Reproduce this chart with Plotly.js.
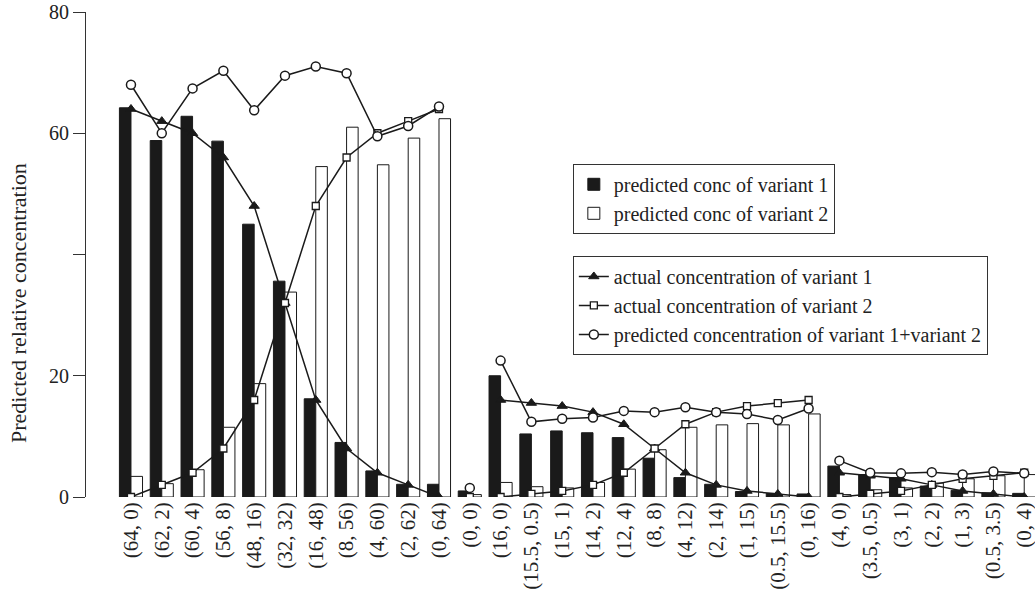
<!DOCTYPE html>
<html>
<head>
<meta charset="utf-8">
<script src="https://cdn.plot.ly/plotly-3.0.1.min.js"></script>
<style>html,body{margin:0;padding:0;background:#fff;}#chart{width:1035px;height:596px;}</style>
</head>
<body>
<div id="chart"></div>
<script>
const categories = ["(64, 0)","(62, 2)","(60, 4)","(56, 8)","(48, 16)","(32, 32)","(16, 48)","(8, 56)","(4, 60)","(2, 62)","(0, 64)",
  "(0, 0)",
  "(16, 0)","(15.5, 0.5)","(15, 1)","(14, 2)","(12, 4)","(8, 8)","(4, 12)","(2, 14)","(1, 15)","(0.5, 15.5)","(0, 16)",
  "(4, 0)","(3.5, 0.5)","(3, 1)","(2, 2)","(1, 3)","(0.5, 3.5)","(0, 4)"];

const predictedVariant1 = [64.2, 58.8, 62.8, 58.7, 45, 35.6, 16.2, 9, 4.3, 2.1, 2.1,
  1,
  20, 10.4, 10.9, 10.6, 9.8, 6.4, 3.2, 2.1, 0.9, 0.6, 0.5,
  5.1, 3.7, 3.2, 1.8, 1.1, 0.7, 0.6];

const predictedVariant2 = [3.4, 2.2, 4.5, 11.5, 18.7, 33.8, 54.5, 61, 54.8, 59.2, 62.4,
  0.4,
  2.4, 1.7, 1.5, 2.4, 4.6, 7.8, 11.5, 11.9, 12.1, 11.9, 13.7,
  0.4, 1.2, 1.5, 2.3, 3, 3.5, 3.7];

const actualVariant1 = [64, 62, 60, 56, 48, 32, 16, 8, 4, 2, 0,
  0,
  16, 15.5, 15, 14, 12, 8, 4, 2, 1, 0.5, 0,
  4, 3.5, 3, 2, 1, 0.5, 0];

const actualVariant2 = [0, 2, 4, 8, 16, 32, 48, 56, 60, 62, 64,
  0,
  0, 0.5, 1, 2, 4, 8, 12, 14, 15, 15.5, 16,
  0, 0.5, 1, 2, 3, 3.5, 4];

const predictedSum = [68, 60, 67.4, 70.3, 63.8, 69.5, 71, 69.9, 59.5, 61.2, 64.4,
  1.5,
  22.5, 12.4, 12.9, 13.1, 14.2, 14, 14.8, 14, 13.7, 12.7, 14.6,
  6, 4, 3.9, 4.1, 3.7, 4.2, 3.9];

const groupBounds = [[0, 11], [11, 12], [12, 23], [23, 30]];

const yTickVals = [0, 20, 40, 60, 80];
const yTickText = ["0", "20", "", "60", "80"];

const FONT = "Liberation Serif, Times New Roman, serif";
const INK = "#1a1a1a";

const traces = [
  {
    type: "bar", x: categories, y: predictedVariant1, name: "predicted conc of variant 1",
    marker: {color: INK, line: {color: INK, width: 1}}, legend: "legend"
  },
  {
    type: "bar", x: categories, y: predictedVariant2, name: "predicted conc of variant 2",
    marker: {color: "#ffffff", line: {color: INK, width: 1}}, legend: "legend"
  }
];

function addLineSeries(values, name, marker) {
  groupBounds.forEach((b, gi) => {
    traces.push({
      type: "scatter", mode: "lines+markers",
      x: categories.slice(b[0], b[1]), y: values.slice(b[0], b[1]),
      name: name, legendgroup: name, showlegend: gi === 0, legend: "legend2",
      line: {color: INK, width: 1.5},
      marker: marker
    });
  });
}

addLineSeries(actualVariant1, "actual concentration of variant 1",
  {symbol: "triangle-up", size: 9, color: INK, line: {color: INK, width: 1}});
addLineSeries(actualVariant2, "actual concentration of variant 2",
  {symbol: "square", size: 7, color: "#ffffff", line: {color: INK, width: 1.3}});
addLineSeries(predictedSum, "predicted concentration of variant 1+variant 2",
  {symbol: "circle", size: 9, color: "#ffffff", line: {color: INK, width: 1.5}});

const layout = {
  width: 1035, height: 596,
  margin: {l: 86, r: 0, t: 12, b: 99},
  paper_bgcolor: "#ffffff", plot_bgcolor: "#ffffff",
  font: {family: FONT, color: "#222", size: 20},
  barmode: "group", bargap: 0.25, bargroupgap: 0,
  xaxis: {
    type: "category", categoryorder: "array", categoryarray: categories,
    range: [-1.46, 29.35], showline: false, ticks: "", showgrid: false, zeroline: false,
    tickangle: -90, tickfont: {family: FONT, size: 21, color: "#222"}
  },
  yaxis: {
    range: [0, 80], tickvals: yTickVals, ticktext: yTickText,
    showline: true, linecolor: "#333", linewidth: 1, ticks: "outside", ticklen: 12, tickcolor: "#333",
    showgrid: false, zeroline: false, tickfont: {family: FONT, size: 20, color: "#222"}
  },
  annotations: [{
    text: "Predicted relative concentration", textangle: -90,
    xref: "paper", yref: "paper", x: -0.0717, y: 0.40, xanchor: "center", yanchor: "middle",
    showarrow: false, font: {family: FONT, size: 22, color: "#222"}
  }],
  legend: {
    x: 0.513, y: 0.687, xanchor: "left", yanchor: "top",
    bgcolor: "#ffffff", bordercolor: "#333", borderwidth: 1,
    font: {family: FONT, size: 20, color: "#222"}, traceorder: "normal"
  },
  legend2: {
    x: 0.513, y: 0.497, xanchor: "left", yanchor: "top",
    bgcolor: "#ffffff", bordercolor: "#333", borderwidth: 1,
    font: {family: FONT, size: 20, color: "#222"}, traceorder: "normal"
  },
  showlegend: true
};

Plotly.newPlot("chart", traces, layout, {displayModeBar: false, staticPlot: true});
</script>
</body>
</html>
